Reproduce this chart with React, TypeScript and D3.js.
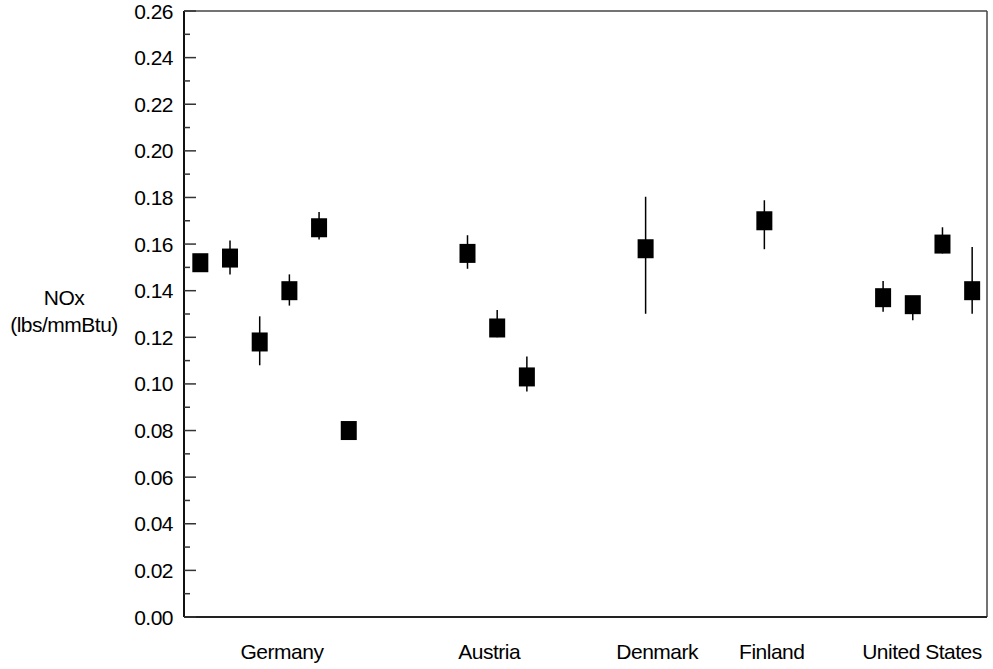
import React from "react";
import * as d3 from "d3";

const countries = ["Germany", "Austria", "Denmark", "Finland", "United States"];
const countryLabelSlot = [2.75, 9.73, 15.39, 19.25, 24.31];

const slots = [0, 1, 2, 3, 4, 5, 9, 10, 11, 15, 19, 23, 24, 25, 26];
const values = [0.152, 0.154, 0.118, 0.14, 0.167, 0.08, 0.156, 0.124, 0.103, 0.158, 0.17, 0.137, 0.134, 0.16, 0.14];
const upper = [0.155, 0.1615, 0.129, 0.147, 0.1738, 0.082, 0.1638, 0.1317, 0.1118, 0.1803, 0.1788, 0.1442, 0.136, 0.1672, 0.1587];
const lower = [0.149, 0.147, 0.108, 0.1336, 0.162, 0.078, 0.1494, 0.12, 0.0968, 0.1301, 0.1578, 0.131, 0.1273, 0.156, 0.1301];

const yTicks = [0, 0.02, 0.04, 0.06, 0.08, 0.1, 0.12, 0.14, 0.16, 0.18, 0.2, 0.22, 0.24, 0.26];
const yMinor = [0.01, 0.03, 0.05, 0.07, 0.09, 0.11, 0.13, 0.15, 0.17, 0.19, 0.21, 0.23, 0.25];
const yLabelLines = ["NOx", "(lbs/mmBtu)"];

const W = 993, H = 669;
const L = 184, R = 987, T = 11, B = 617;
const font = "'Liberation Sans', Arial, sans-serif";
const fs = 21;
const ls = -0.5;

export default function App() {
  const x = d3.scaleLinear().domain([-0.55, 26.5]).range([L, R]);
  const y = d3.scaleLinear().domain([0, 0.26]).range([B, T]);
  const fmt = d3.format(".2f");
  const bw = 16, bh = 19;
  return (
    <svg width={W} height={H} style={{ position: "absolute", left: 0, top: 0, background: "#fff" }} fontFamily={font}>
      <rect x={0} y={0} width={W} height={H} fill="#fff" />
      {/* frame */}
      <line x1={L} x2={R} y1={T} y2={T} stroke="#444" strokeWidth={1.5} />
      <line x1={R} x2={R} y1={T} y2={B} stroke="#444" strokeWidth={1.5} />
      <line x1={L} x2={R} y1={B} y2={B} stroke="#222" strokeWidth={2} />
      <line x1={L} x2={L} y1={T} y2={B} stroke="#111" strokeWidth={2} />
      {yTicks.map((t) => (
        <g key={"t" + t}>
          <line x1={L} x2={L + 12} y1={y(t)} y2={y(t)} stroke="#333" strokeWidth={1.5} />
          <text x={173} y={y(t)} dy="0.36em" textAnchor="end" fontSize={fs} letterSpacing={ls} fill="#000">
            {fmt(t)}
          </text>
        </g>
      ))}
      {yMinor.map((t) => (
        <line key={"m" + t} x1={L} x2={L + 6} y1={y(t)} y2={y(t)} stroke="#333" strokeWidth={1.5} />
      ))}
      {/* error bars */}
      {slots.map((s, i) => (
        <line key={"e" + i} x1={x(s)} x2={x(s)} y1={y(upper[i])} y2={y(lower[i])} stroke="#000" strokeWidth={1.5} />
      ))}
      {/* markers */}
      {slots.map((s, i) => (
        <rect key={"r" + i} x={x(s) - bw / 2} y={y(values[i]) - bh / 2} width={bw} height={bh} fill="#000" />
      ))}
      {/* category labels */}
      {countries.map((c, i) => (
        <text key={c} x={x(countryLabelSlot[i])} y={659} textAnchor="middle" fontSize={fs} letterSpacing={ls} fill="#000">
          {c}
        </text>
      ))}
      {/* y axis title */}
      {yLabelLines.map((l, i) => (
        <text key={l} x={64} y={305 + i * 27} textAnchor="middle" fontSize={fs} letterSpacing={ls} fill="#000">
          {l}
        </text>
      ))}
    </svg>
  );
}
